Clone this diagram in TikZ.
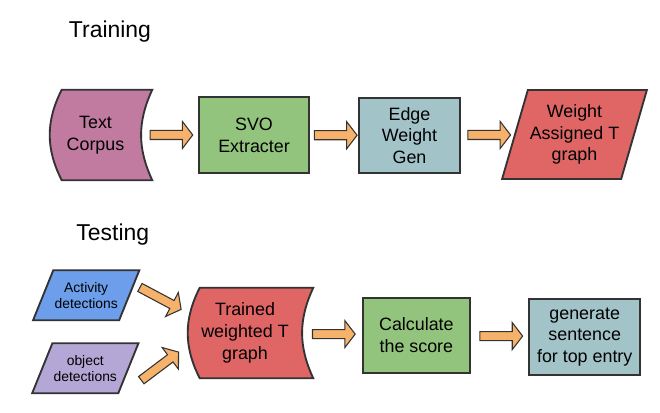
\documentclass[tikz,border=0pt]{standalone}
\usepackage{fontspec}
\setmainfont{Liberation Sans}
\usepackage{tikz}
\usetikzlibrary{
    arrows.meta,
    backgrounds,
    calc,
    shapes.arrows,
    shapes.geometric
}

\definecolor{outline}{HTML}{333333}
\definecolor{magentaA}{HTML}{C27BA0}
\definecolor{greenA}{HTML}{93C47D}
\definecolor{tealA}{HTML}{A2C4C9}
\definecolor{redA}{HTML}{E06666}
\definecolor{blueA}{HTML}{6D9EEB}
\definecolor{purpleA}{HTML}{B4A7D6}
\definecolor{orangeA}{HTML}{F6B26B}

\begin{document}
\begin{tikzpicture}[x=0.75pt, y=0.75pt,
    title/.style={font=\fontsize{17.2}{20}\selectfont, anchor=base},
    label/.style={align=center, font=\fontsize{13.4}{16.3}\selectfont, inner sep=1pt},
    box/.style={label, draw=outline, line width=1.4pt},
    para/.style={box, trapezium, trapezium stretches=true},
    small/.style={font=\fontsize{10.4}{12}\selectfont},
    blockarrow/.style={single arrow, draw=outline, fill=orangeA, line width=0.8pt,
        inner sep=3pt, minimum height=32pt, minimum width=19.5pt,
        single arrow head extend=6.75pt, single arrow tip angle=105}
]
    \useasboundingbox (0,0) rectangle (660,413);

    % titles
    \node[title] (train) at (110,375) {Training};
    \node[title] (test) at (112.8,172) {Testing};

    % training row
    \node[label, minimum width=68.25pt, minimum height=67.5pt] (corpus) at (95.5,278) {Text\\Corpus};
    \node[box, fill=greenA, minimum width=82.5pt, minimum height=57pt] (svo) at (254,278) {SVO\\Extracter};
    \node[box, fill=tealA, minimum width=75.75pt, minimum height=56.25pt] (edge) at (409.5,277.5) {Edge\\Weight\\Gen};
    \node[para, fill=redA, trapezium left angle=68, trapezium right angle=112,
          minimum width=108.75pt, minimum height=66.75pt] (wgraph) at (574.5,278.5) {Weight\\Assigned T\\graph};

    % testing row
    \node[para, small, fill=blueA, trapezium left angle=55, trapezium right angle=125,
          minimum width=74.25pt, minimum height=37.5pt] (act) at (86.2,117.7) {Activity\\detections};
    \node[para, small, fill=purpleA, trapezium left angle=55, trapezium right angle=125,
          minimum width=74.25pt, minimum height=37.5pt] (obj) at (85.3,44.7) {object\\detections};
    \node[label, minimum width=85.5pt, minimum height=67.5pt] (trained) at (245,80) {Trained\\weighted T\\graph};
    \node[box, fill=greenA, minimum width=80.25pt, minimum height=56.25pt] (calc) at (416.4,77.8) {Calculate\\the score};
    \node[box, fill=tealA, minimum width=83.25pt, minimum height=57pt] (gen) at (584.7,76) {generate\\sentence\\for top entry};

    % curved store shapes
    \begin{scope}[on background layer]
        \draw[fill=magentaA, draw=outline, line width=1.4pt]
            ($(corpus.north west)+(12,0)$) -- ($(corpus.north east)+(11,0)$)
            to[bend right=25] ($(corpus.south east)+(11,0)$) -- ($(corpus.south west)+(12,0)$)
            to[bend left=27] ($(corpus.north west)+(12,0)$) -- cycle;
        \draw[fill=redA, draw=outline, line width=1.4pt]
            ($(trained.north west)+(12,0)$) -- ($(trained.north east)+(11,0)$)
            to[bend right=25] ($(trained.south east)+(11,0)$) -- ($(trained.south west)+(12,0)$)
            to[bend left=27] ($(trained.north west)+(12,0)$) -- cycle;
    \end{scope}

    % block arrows
    \node[blockarrow] (a1) at ($(corpus.east)!0.5!(svo.west)$) {};
    \node[blockarrow] (a2) at ($(svo.east)!0.5!(edge.west)$) {};
    \node[blockarrow] (a3) at ($(edge.east)!0.5!(wgraph.west)$) {};
    \node[blockarrow, minimum height=35pt, rotate=-28] (a4) at ($(act.east)!0.5!(trained.150)$) {};
    \node[blockarrow, minimum height=35pt, rotate=37] (a5) at ($(obj.east)!0.5!(trained.210)$) {};
    \node[blockarrow] (a6) at ($(trained.east)!0.5!(calc.west)$) {};
    \node[blockarrow] (a7) at ($(calc.east)!0.5!(gen.west)$) {};
\end{tikzpicture}
\end{document}
